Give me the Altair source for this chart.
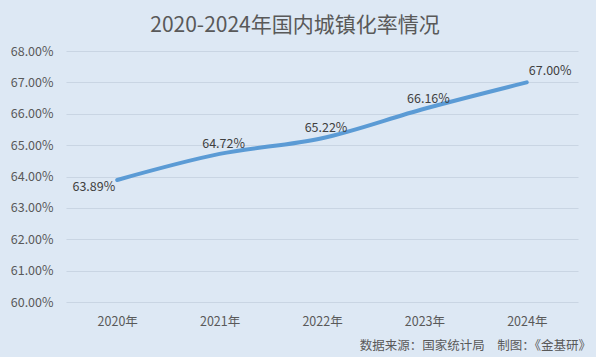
import altair as alt
import pandas as pd

years = ["2020年", "2021年", "2022年", "2023年", "2024年"]
rates = [63.89, 64.72, 65.22, 66.16, 67.00]
title_text = "2020-2024年国内城镇化率情况"
footer_text = "数据来源：国家统计局　制图：《金基研》"

df = pd.DataFrame({"year": years, "rate": rates})
df["label"] = [f"{v:.2f}%" for v in rates]
df["idx"] = list(range(len(years)))

FONT = "Noto Sans CJK SC"
TXT = "#595959"

x = alt.X("year:N", sort=years, title=None,
          scale=alt.Scale(paddingInner=0, paddingOuter=0.5),
          axis=alt.Axis(labelAngle=0, domain=False, ticks=False, labelPadding=13,
                        labelFont=FONT, labelFontSize=12.5, labelColor=TXT))
y = alt.Y("rate:Q", title=None,
          scale=alt.Scale(domain=[60, 68], nice=False, zero=False),
          axis=alt.Axis(values=[60, 61, 62, 63, 64, 65, 66, 67, 68],
                        labelExpr="format(datum.value, '.2f') + '%'",
                        domain=False, ticks=False, labelPadding=13,
                        labelFont=FONT, labelFontSize=12.5, labelColor=TXT,
                        gridColor="#c9d5e3", gridWidth=1))

base = alt.Chart(df)

line = base.mark_line(color="#5b9bd5", strokeWidth=4, interpolate="monotone",
                      strokeCap="round").encode(x=x, y=y)

txt_kw = dict(font=FONT, fontSize=12.5, color="#404040")
lab_first = base.transform_filter("datum.idx == 0").mark_text(
    align="right", baseline="middle", dx=-2, dy=7, **txt_kw).encode(x=x, y=y, text="label:N")
lab_mid = base.transform_filter("datum.idx > 0 && datum.idx < 4").mark_text(
    align="center", baseline="bottom", dx=4, dy=-3, **txt_kw).encode(x=x, y=y, text="label:N")
lab_last = base.transform_filter("datum.idx == 4").mark_text(
    align="left", baseline="middle", dx=2, dy=-11, **txt_kw).encode(x=x, y=y, text="label:N")

footer = alt.Chart(pd.DataFrame({"t": [footer_text]})).mark_text(
    align="right", baseline="middle", font=FONT, fontSize=12.5, color=TXT).encode(
    x=alt.value(525), y=alt.value(295), text="t:N")

chart = alt.layer(line, lab_first, lab_mid, lab_last, footer).properties(
    width=512, height=251,
    autosize=alt.AutoSizeParams(type="none"),
    padding={"left": 66, "top": 51, "right": 18, "bottom": 55},
    background="#dde8f4",
    title=alt.TitleParams(title_text, font=FONT, fontSize=21, fontWeight="normal",
                          color=TXT, anchor="middle", offset=9, dx=-27),
).configure_view(stroke=None)

chart.save("out.html", embed_options={"renderer": "svg", "actions": False})
